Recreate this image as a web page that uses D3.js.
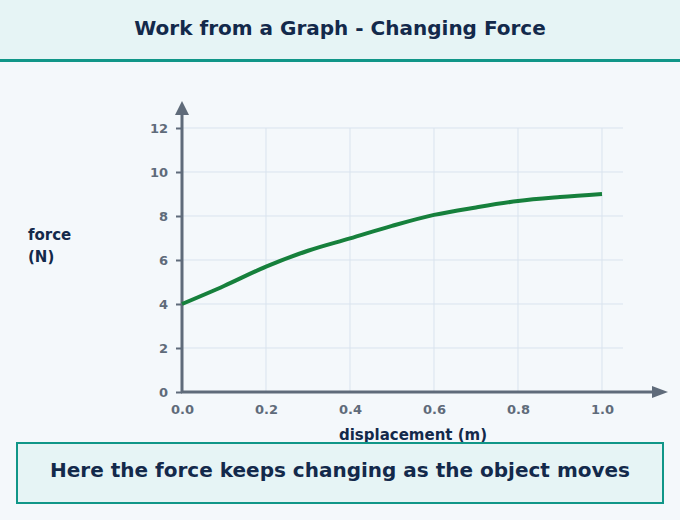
<!DOCTYPE html>
<html>
<head>
<meta charset="utf-8">
<script src="https://cdn.jsdelivr.net/npm/d3@7"></script>
<style>
  body { margin: 0; background: #f4f8fb; }
  svg { display: block; font-family: "DejaVu Sans", sans-serif; }
</style>
</head>
<body>
<div id="chart"></div>
<script>
// force vs displacement
const displacement = [0, 0.1, 0.2, 0.3, 0.4, 0.5, 0.6, 0.7, 0.8, 0.9, 1.0];
const force = [4.0, 4.82, 5.7, 6.42, 6.98, 7.55, 8.05, 8.39, 8.68, 8.86, 9.0];
const xTicks = [0, 0.2, 0.4, 0.6, 0.8, 1.0];
const yTicks = [0, 2, 4, 6, 8, 10, 12];

const width = 680;
const height = 520;
const axisColor = '#5f6b7a';
const ink = '#13294b';

const svg = d3.select('#chart')
  .append('svg')
  .attr('width', width)
  .attr('height', height);

svg.append('rect').attr('width', width).attr('height', height).attr('fill', '#f4f8fb');

// header
svg.append('rect').attr('width', width).attr('height', 60).attr('fill', '#e6f4f5');
svg.append('rect').attr('y', 59).attr('width', width).attr('height', 3).attr('fill', '#109688');
svg.append('text')
  .attr('x', width / 2).attr('y', 35)
  .attr('text-anchor', 'middle')
  .attr('font-size', 20).attr('font-weight', 'bold')
  .attr('fill', ink)
  .text('Work from a Graph - Changing Force');

const x = d3.scaleLinear().domain([0, 1]).range([182, 602]);
const y = d3.scaleLinear().domain([0, 12]).range([392, 128]);
const gridRight = x(1.05);

// grid
svg.append('g')
  .selectAll('line')
  .data(yTicks.slice(1))
  .join('line')
    .attr('x1', x(0)).attr('x2', gridRight)
    .attr('y1', d => y(d)).attr('y2', d => y(d))
    .attr('stroke', '#d9e3ee').attr('stroke-width', 1);
svg.append('g')
  .selectAll('line')
  .data(xTicks.slice(1))
  .join('line')
    .attr('x1', d => x(d)).attr('x2', d => x(d))
    .attr('y1', y(0)).attr('y2', y(12))
    .attr('stroke', '#d9e3ee').attr('stroke-width', 1);

// axes
const yAxis = g => g
  .attr('transform', `translate(${x(0)},0)`)
  .call(d3.axisLeft(y).tickValues(yTicks).tickSize(6).tickPadding(8))
  .call(g => g.select('.domain').remove());
const xAxis = g => g
  .attr('transform', `translate(0,${y(0)})`)
  .call(d3.axisBottom(x).tickValues(xTicks).tickFormat(d3.format('.1f')).tickSize(0).tickPadding(13))
  .call(g => g.select('.domain').remove());

svg.append('g').call(yAxis);
svg.append('g').call(xAxis);
svg.selectAll('.tick text')
  .attr('font-family', '"DejaVu Sans", sans-serif')
  .attr('font-size', 13).attr('font-weight', 'bold').attr('fill', axisColor);
svg.selectAll('.tick line').attr('stroke', axisColor).attr('stroke-width', 2);

// axis lines with arrows
svg.append('line')
  .attr('x1', x(0)).attr('x2', x(0)).attr('y1', y(0) + 1).attr('y2', 114)
  .attr('stroke', axisColor).attr('stroke-width', 3);
svg.append('path')
  .attr('d', `M${x(0)},101 L${x(0) - 7},115 L${x(0) + 7},115 Z`)
  .attr('fill', axisColor);
svg.append('line')
  .attr('x1', x(0) - 1).attr('x2', 654).attr('y1', y(0)).attr('y2', y(0))
  .attr('stroke', axisColor).attr('stroke-width', 3);
svg.append('path')
  .attr('d', `M668,${y(0)} L652,${y(0) - 6} L652,${y(0) + 6} Z`)
  .attr('fill', axisColor);

// curve
const line = d3.line()
  .x((d, i) => x(displacement[i]))
  .y(d => y(d))
  .curve(d3.curveMonotoneX);
svg.append('path')
  .datum(force)
  .attr('d', line)
  .attr('fill', 'none')
  .attr('stroke', '#16803c')
  .attr('stroke-width', 4)
  .attr('stroke-linecap', 'butt');

// labels
svg.append('text')
  .attr('x', 413).attr('y', 440)
  .attr('text-anchor', 'middle')
  .attr('font-size', 15).attr('font-weight', 'bold').attr('fill', ink)
  .text('displacement (m)');
const yl = svg.append('text')
  .attr('x', 28).attr('y', 240)
  .attr('font-size', 15).attr('font-weight', 'bold').attr('fill', ink);
yl.append('tspan').attr('x', 28).text('force');
yl.append('tspan').attr('x', 28).attr('dy', 22).text('(N)');

// caption box
svg.append('rect')
  .attr('x', 17).attr('y', 443).attr('width', 646).attr('height', 60)
  .attr('fill', '#e6f4f5').attr('stroke', '#109688').attr('stroke-width', 2);
svg.append('text')
  .attr('x', 340).attr('y', 477)
  .attr('text-anchor', 'middle')
  .attr('font-size', 20).attr('font-weight', 'bold').attr('fill', ink)
  .text('Here the force keeps changing as the object moves');
</script>
</body>
</html>
